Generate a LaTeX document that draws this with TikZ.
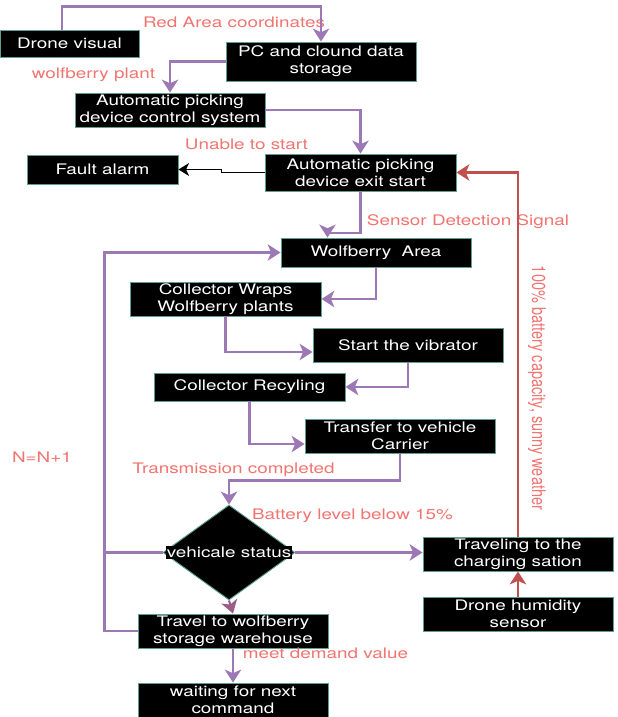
\documentclass[tikz,border=0pt]{standalone}
\usepackage{fontspec}
\setmainfont[FakeStretch=1.3]{TeX Gyre Heros}
\newfontfamily\unstretched{TeX Gyre Heros}
\usepackage{tikz}
\usetikzlibrary{positioning}
\usetikzlibrary{arrows.meta}
\usetikzlibrary{shapes.geometric}

\definecolor{boxteal}{HTML}{5E9E8E}
\definecolor{flowpurple}{HTML}{9C78B4}
\definecolor{flowmauve}{HTML}{9A5E86}
\definecolor{flowred}{HTML}{C0504D}
\definecolor{labelred}{HTML}{F07470}

\newcommand\boxfont{\fontsize{12.4}{14.4}\selectfont}

\tikzset{
	stepbox/.style={draw=boxteal, fill=black, text=white, line width=0.8pt,
		align=center, inner sep=1pt, font=\boxfont},
	labeltext/.style={text=labelred, inner sep=0pt, font=\boxfont},
	flowline/.style={draw=flowpurple, line width=1.8pt},
	flow/.style={flowline, -{Stealth[length=11pt,width=14pt,inset=3pt]}},
	redflow/.style={draw=flowred, line width=1.8pt, -{Stealth[length=11pt,width=14pt,inset=3pt]}},
	blackflow/.style={draw=black, line width=1.2pt, -{Stealth[length=9pt,width=11pt,inset=2.5pt]}},
}

\begin{document}
\begin{tikzpicture}[x=0.03cm, y=-0.03cm]

		% ---------------------
		% Proper size --- Bounding box
		\useasboundingbox (0,0) rectangle (618,717);

		% ---------------------
		% Boxes
		\node[stepbox, minimum width=4.17cm, minimum height=0.81cm] (drone) at (69.5,43.5) {Drone visual};
		\node[stepbox, minimum width=5.70cm, minimum height=1.17cm] (pc) at (321,61.5) {PC and clound data\\storage};
		\node[stepbox, minimum width=5.70cm, minimum height=1.02cm] (ctrl) at (170,110) {Automatic picking\\device control system};
		\node[stepbox, minimum width=4.53cm, minimum height=0.87cm] (fault) at (102.5,169.5) {Fault alarm};
		\node[stepbox, minimum width=5.73cm, minimum height=1.11cm] (exit) at (360.5,172.5) {Automatic picking\\device exit start};
		\node[stepbox, minimum width=5.70cm, minimum height=0.87cm] (area) at (376,252.5) {Wolfberry\ \ Area};
		\node[stepbox, minimum width=5.73cm, minimum height=1.02cm] (wraps) at (225.5,299) {Collector Wraps\\Wolfberry plants};
		\node[stepbox, minimum width=5.70cm, minimum height=1.02cm] (vib) at (408,345) {Start the vibrator};
		\node[stepbox, minimum width=5.73cm, minimum height=0.84cm] (recyc) at (249.5,387) {Collector Recyling};
		\node[stepbox, minimum width=5.70cm, minimum height=1.02cm] (transfer) at (400,436) {Transfer to vehicle\\Carrier};

		\node[diamond, draw=boxteal, fill=black, line width=0.8pt, inner sep=0pt,
			minimum width=3.96cm, minimum height=2.85cm] (dia) at (229,552.5) {};
		\node[fill=black, text=white, inner sep=1pt, font=\boxfont] (status) at (dia.center) {vehicale status};

		\node[stepbox, minimum width=5.70cm, minimum height=1.02cm] (charge) at (518,554) {Traveling to the\\charging sation};
		\node[stepbox, minimum width=5.70cm, minimum height=1.02cm] (humid) at (518,614) {Drone humidity\\sensor};
		\node[stepbox, minimum width=5.70cm, minimum height=1.02cm] (store) at (233,631) {Travel to wolfberry\\storage warehouse};
		\node[stepbox, minimum width=5.70cm, minimum height=1.02cm] (wait) at (233,700) {waiting for next\\command};

		% ---------------------
		% Labels
		\node[labeltext] (lcoord) at (234,22) {Red Area coordinates};
		\node[labeltext] (lplant) at (93.5,75) {wolfberry plant};
		\node[labeltext] (lunable) at (246.5,144) {Unable to start};
		\node[labeltext] (lsensor) at (468,222) {Sensor Detection Signal};
		\node[labeltext, rotate=-90] (lweather) at (537,388)
			{\scalebox{1}[1.3]{\unstretched\fontsize{12.4}{14}\selectfont 100\% battery capacity, sunny weather}};
		\node[labeltext] (lcount) at (42,457) {N=N+1};
		\node[labeltext] (ltrans) at (233.5,470) {Transmission completed};
		\node[labeltext] (lbattery) at (352.5,516) {Battery level below 15\%};
		\node[labeltext] (ldemand) at (325.5,653) {meet demand value};

		% ---------------------
		% Helper coordinates
		\path (store.west) +(-33,0) coordinate (loopB);

		% ---------------------
		% Connectors
		\draw[flow] ([xshift=-0.22cm]drone.north) -- ++(0,-23) -| (pc.north);
		\draw[flow] (pc.west) -| (ctrl.north);
		\draw[flow] (ctrl.east) -| (exit.north);
		\draw[blackflow] (exit.west) -- ++(-43,0) |- (fault.east);
		\draw[flow] (exit.south) -- ++(0,41.5) -| ([xshift=-1.455cm]area.north);
		\draw[flow] (area.south) |- (wraps.east);
		\draw[flow] (wraps.south) |- ([yshift=-0.21cm]vib.west);
		\draw[flow] (vib.south) |- (recyc.east);
		\draw[flow] (recyc.south) |- ([yshift=-0.24cm]transfer.west);
		\draw[flow] (transfer.south) -- ++(0,27) -| (dia.north);
		\draw[flow] (dia.east) -- (dia.east -| charge.west);
		\draw[flow, draw=flowmauve] (dia.south) -- (store.north);
		\draw[flow] (store.west) -- (loopB) |- (area.west);
		\draw[flowline] (dia.west) -- (dia.west -| loopB);
		\draw[flow] (store.south) -- (wait.north);
		\draw[redflow] (humid.north) -- (charge.south);
		\draw[redflow] (charge.north) |- (exit.east);

\end{tikzpicture}
\end{document}
